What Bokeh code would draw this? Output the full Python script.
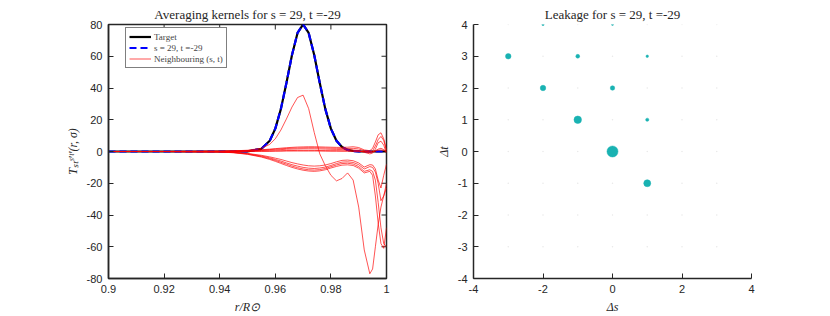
import math
from bokeh.plotting import figure
from bokeh.models import FixedTicker, Legend, LegendItem, Range1d
from bokeh.layouts import row
from bokeh.embed import file_html
from bokeh.resources import INLINE

# ---------------- data: averaging kernels ----------------
r = [0.900, 0.920, 0.940, 0.945, 0.950, 0.955, 0.958, 0.960, 0.962, 0.964,
     0.966, 0.968, 0.970, 0.972, 0.974, 0.976, 0.978, 0.980, 0.982, 0.984,
     0.986, 0.988, 0.990, 0.992, 0.994, 0.995, 0.996, 0.997, 0.998, 0.999, 1.000]

target = [0, 0, 0, 0, 0.1, 1.7, 6.8, 14.4, 26.7, 43.1,
          60.8, 74.7, 80.0, 74.7, 60.8, 43.1, 26.7, 14.4, 6.8, 2.8,
          1.0, 0.3, 0.1, 0, 0, 0, 0, 0, 0, 0, 0]

kernel = [0, 0, 0, 0, 0.1, 1.7, 6.8, 14.4, 26.7, 43.1,
          60.8, 74.7, 80.0, 74.7, 60.8, 43.1, 26.7, 14.4, 6.8, 2.8,
          1.0, 0.3, 0.1, 0, 0, 0, 0, 0, 0, 0, 0]

neighbours = [
    # (-1, 1): the big leak, peak ~36 then deep dip
    [0, 0, 0.2, 0.4, 0.8, 2.0, 4.5, 8.0, 13.5, 20.5,
     28.0, 34.0, 35.5, 27.0, 12.0, -1.5, -9.0, -15.0, -18.5, -17.0,
     -13.5, -18.0, -35.0, -62.0, -77.0, -74.0, -60.0, -46.0, -35.0, -28.0, -23.0],
    # (1, -1)
    [0, 0, -0.3, -0.8, -1.8, -3.5, -5.0, -6.2, -7.5, -8.8,
     -10.0, -11.0, -11.8, -12.3, -12.5, -12.2, -11.5, -10.4, -9.4, -8.6,
     -8.4, -8.8, -10.5, -13.5, -12.5, -15.0, -28.0, -45.0, -58.0, -61.0, -48.0],
    # (-3, 3)
    [0, 0, -0.3, -0.7, -1.6, -3.2, -4.5, -5.6, -6.8, -8.0,
     -9.2, -10.2, -11.0, -11.5, -11.7, -11.4, -10.7, -9.6, -8.5, -7.6,
     -7.4, -7.9, -9.5, -12.5, -11.5, -12.5, -18.0, -32.0, -48.0, -58.0, -60.0],
    # (-2, 2)
    [0, 0, -0.2, -0.6, -1.4, -2.8, -4.0, -5.0, -6.0, -7.2,
     -8.3, -9.2, -10.0, -10.5, -10.7, -10.4, -9.8, -8.8, -7.6, -6.7,
     -6.5, -6.9, -8.3, -11.0, -9.5, -10.0, -13.0, -20.0, -31.0, -28.0, -20.0],
    # (0, 2)
    [0, 0, -0.2, -0.5, -1.2, -2.4, -3.4, -4.2, -5.0, -6.0,
     -7.0, -7.8, -8.5, -9.0, -9.2, -9.0, -8.5, -7.6, -6.5, -5.6,
     -5.4, -5.8, -7.2, -9.8, -8.3, -8.5, -11.0, -18.0, -23.0, -15.0, -8.0],
    # (1, 1)
    [0, 0, 0.1, 0.3, 0.6, 1.1, 1.5, 1.8, 2.1, 2.4,
     2.6, 2.8, 2.9, 3.0, 3.0, 2.9, 2.8, 2.7, 2.6, 2.6,
     2.7, 3.0, 2.5, 1.0, 0.5, 2.0, 6.0, 10.5, 11.8, 8.0, 1.0],
    # (-1, 3)
    [0, 0, 0.1, 0.2, 0.5, 0.9, 1.2, 1.5, 1.7, 1.9,
     2.1, 2.2, 2.3, 2.4, 2.4, 2.3, 2.2, 2.1, 2.0, 1.9,
     1.9, 2.0, 1.6, 0.5, -0.5, 0.5, 3.5, 7.5, 9.5, 7.0, 0.5],
    # (1, 3)
    [0, 0, 0, 0.1, 0.3, 0.6, 0.8, 1.0, 1.2, 1.4,
     1.5, 1.6, 1.7, 1.7, 1.7, 1.6, 1.5, 1.4, 1.3, 1.2,
     1.1, 1.0, 0.6, -0.5, -1.5, -1.0, 1.5, 5.5, 6.5, 4.0, -1.0],
    # (-2, 4)
    [0, 0, 0, 0, 0.1, 0.2, 0.3, 0.4, 0.5, 0.6,
     0.6, 0.7, 0.7, 0.7, 0.7, 0.6, 0.6, 0.5, 0.5, 0.4,
     0.4, 0.4, 0.2, -0.2, -0.5, -0.3, 0.5, 1.5, 2.0, 1.2, 0],
    # (0, 4)
    [0, 0, 0, 0, 0, 0.1, 0.1, 0.2, 0.2, 0.3,
     0.3, 0.3, 0.3, 0.3, 0.3, 0.3, 0.2, 0.2, 0.2, 0.2,
     0.2, 0.1, 0.1, 0, -0.2, -0.1, 0.2, 0.8, 1.0, 0.6, 0],
]

r_ticks = [0.9, 0.92, 0.94, 0.96, 0.98, 1.0]
r_tick_labels = ["0.9", "0.92", "0.94", "0.96", "0.98", "1"]
k_ticks = [-80, -60, -40, -20, 0, 20, 40, 60, 80]
k_tick_labels = ["-80", "-60", "-40", "-20", "0", "20", "40", "60", "80"]

# ---------------- data: leakage ----------------
ds = [0, -1, 1, -3, -2, 0, -1, 1, 1, -2, 0]
dt = [0, 1, -1, 3, 2, 2, 3, 1, 3, 4, 4]
leak = [1.0, 0.465, 0.405, 0.25, 0.25, 0.167, 0.119, 0.085, 0.052, 0.044, 0.033]
grid_s = [-3, -2, -1, 0, 1, 2, 3]
grid_t = [-3, -2, -1, 0, 1, 2, 3, 4]
s_ticks = [-4, -2, 0, 2, 4]
s_tick_labels = ["-4", "-2", "0", "2", "4"]
t_ticks = [-4, -3, -2, -1, 0, 1, 2, 3, 4]
t_tick_labels = ["-4", "-3", "-2", "-1", "0", "1", "2", "3", "4"]

# ---------------- styling helpers ----------------
AX = "#262626"
TICKFONT = "Liberation Sans"
SERIF = "Liberation Serif"


def style_axis(ax, ticks, labels):
    ax.ticker = FixedTicker(ticks=ticks)
    ax.axis_line_color = AX
    ax.axis_line_width = 1.5
    ax.major_tick_line_color = AX
    ax.major_tick_line_width = 1
    ax.major_tick_in = 5
    ax.major_tick_out = 0
    ax.minor_tick_line_color = None
    ax.major_label_text_font = TICKFONT
    ax.major_label_text_font_size = "11px"
    ax.major_label_text_color = AX
    ax.major_label_standoff = 6
    ax.axis_label_text_font = SERIF
    ax.axis_label_text_font_style = "italic"
    ax.axis_label_text_font_size = "12px"
    ax.axis_label_text_color = AX
    ax.axis_label_standoff = 4
    ax.major_label_overrides = dict(zip(ticks, labels))


def style_title(p, text):
    p.title.text = text
    p.title.align = "center"
    p.title.text_font = SERIF
    p.title.text_font_style = "normal"
    p.title.text_font_size = "13px"
    p.title.text_color = AX
    p.title.standoff = 6


# ---------------- left figure ----------------
p1 = figure(width=428, height=316, output_backend="svg", toolbar_location=None,
            x_range=Range1d(r_ticks[0], r_ticks[-1]),
            y_range=Range1d(k_ticks[0], k_ticks[-1]),
            min_border_left=108, min_border_right=42, min_border_top=24,
            min_border_bottom=36)
style_title(p1, "Averaging kernels for s = 29, t =-29")
p1.grid.visible = False
p1.outline_line_color = AX
p1.outline_line_width = 1.5
p1.outline_line_alpha = 1

style_axis(p1.xaxis[0], r_ticks, r_tick_labels)
style_axis(p1.yaxis[0], k_ticks, k_tick_labels)
p1.xaxis[0].axis_label = "r/R⊙"
p1.yaxis[0].axis_label = "Tₛₜˢ′ᵗ′(r, σ)"

# mirrored inward ticks on the top and right edges of the box
p1.scatter(r_ticks, [k_ticks[-1]] * len(r_ticks), marker="dash", size=10,
           angle=math.pi / 2, line_color=AX, line_width=1)
p1.scatter([r_ticks[-1]] * len(k_ticks), k_ticks, marker="dash", size=10,
           line_color=AX, line_width=1)

l_target = p1.line(r, target, line_color="black", line_width=2.2)
l_kernel = p1.line(r, kernel, line_color="#0000ff", line_width=2.2, line_dash="7 4")
red_lines = []
for ys in neighbours:
    red_lines.append(p1.line(r, ys, line_color="#ff0000", line_width=0.8, line_alpha=0.85))

legend = Legend(items=[
    LegendItem(label="Target", renderers=[l_target]),
    LegendItem(label="s = 29, t =-29", renderers=[l_kernel]),
    LegendItem(label="Neighbouring (s, t)", renderers=[red_lines[0]]),
], location=(17, 210))
legend.border_line_color = "#000000"
legend.border_line_width = 1.5
legend.padding = 3
legend.spacing = 0
legend.margin = 0
legend.label_text_font = SERIF
legend.label_text_font_size = "9px"
legend.label_height = 11
legend.glyph_height = 11
legend.glyph_width = 22
legend.label_standoff = 3
legend.background_fill_alpha = 1
p1.add_layout(legend)

# ---------------- right figure ----------------
p2 = figure(width=340, height=316, output_backend="svg", toolbar_location=None,
            x_range=Range1d(s_ticks[0], s_ticks[-1]),
            y_range=Range1d(t_ticks[0], t_ticks[-1]),
            min_border_left=45, min_border_right=17, min_border_top=24,
            min_border_bottom=36)
style_title(p2, "Leakage for s = 29, t =-29")
p2.grid.visible = False
p2.outline_line_color = None

style_axis(p2.xaxis[0], s_ticks, s_tick_labels)
style_axis(p2.yaxis[0], t_ticks, t_tick_labels)
p2.xaxis[0].axis_label = "Δs"
p2.yaxis[0].axis_label = "Δt"

gx = [s for t in grid_t for s in grid_s]
gy = [t for t in grid_t for s in grid_s]
p2.scatter(gx, gy, size=1.5, fill_color="#e8e8e8", line_color=None)

sizes = [11.0 * (v ** 0.5) for v in leak]
p2.scatter(ds, dt, size=sizes, fill_color="#19b2b2", line_color="#19b2b2", line_width=0.5)

layout = row(p1, p2)
open("out.html", "w").write(file_html(layout, INLINE))
